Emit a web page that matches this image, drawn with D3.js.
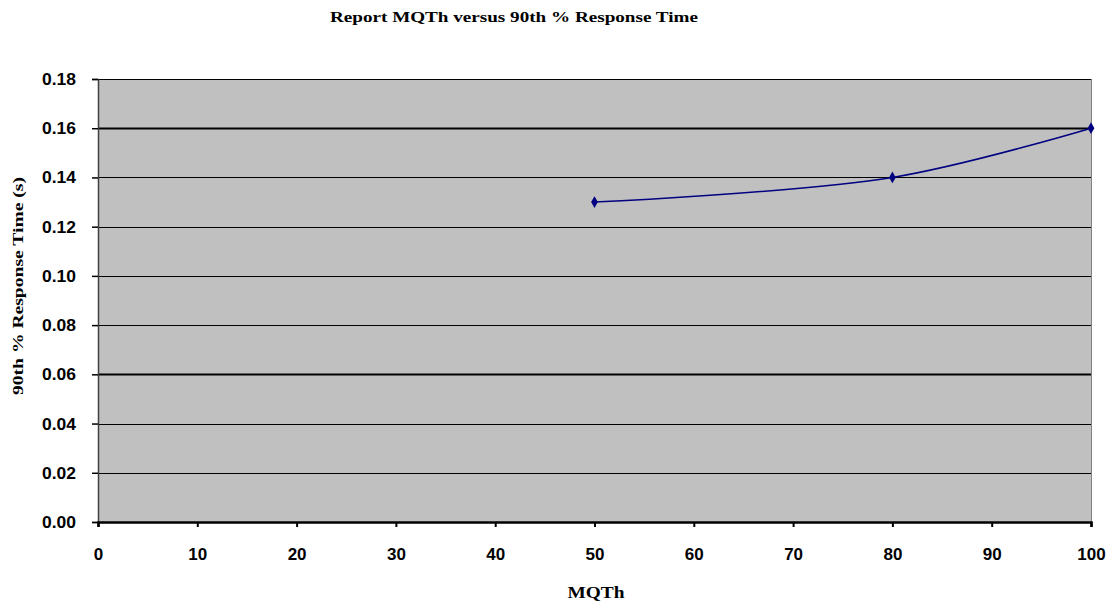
<!DOCTYPE html>
<html><head><meta charset="utf-8">
<script src="https://cdn.jsdelivr.net/npm/d3@7"></script>
<style>body{margin:0;background:#fff}svg{display:block}</style>
</head><body>
<script>
const xValues = [50, 80, 100];
const yValues = [0.13, 0.14, 0.16];
const xTicks = [0,10,20,30,40,50,60,70,80,90,100];
const yTicks = [0,0.02,0.04,0.06,0.08,0.10,0.12,0.14,0.16,0.18];
const title = "Report MQTh versus 90th % Response Time";
const xLabel = "MQTh";
const yLabel = "90th % Response Time (s)";

const W = 1110, H = 605;
const m = {left: 98, right: 1091, top: 79, bottom: 522};
const svg = d3.select("body").append("svg").attr("width", W).attr("height", H);
const x = d3.scaleLinear().domain([0,100]).range([m.left, m.right]);
const y = d3.scaleLinear().domain([0,0.18]).range([m.bottom, m.top]);

svg.append("rect").attr("x", m.left).attr("y", m.top).attr("width", m.right-m.left).attr("height", m.bottom-m.top).attr("fill", "#C0C0C0");

// gridlines
svg.append("g").selectAll("line").data(yTicks.filter(d => d > 0)).join("line")
  .attr("x1", m.left).attr("x2", m.right)
  .attr("y1", d => Math.round(y(d)) + 0.5).attr("y2", d => Math.round(y(d)) + 0.5)
  .attr("stroke", "#000")
  .attr("stroke-width", d => (Math.abs(d-0.16)<1e-9 || Math.abs(d-0.06)<1e-9) ? 2 : 1);

// right border
svg.append("line").attr("x1", m.right+0.5).attr("x2", m.right+0.5).attr("y1", m.top).attr("y2", m.bottom).attr("stroke", "#808080");

const sans = "Liberation Sans, Arial, sans-serif";
// y axis
const yAxis = svg.append("g").attr("transform", `translate(${m.left},0)`)
  .call(d3.axisLeft(y).tickValues(yTicks).tickFormat(d3.format(".2f")).tickSize(6).tickPadding(16));
yAxis.select(".domain").attr("stroke", "#404040").attr("stroke-width", 1.5);
yAxis.selectAll(".tick line").attr("stroke", "#000").attr("stroke-width", 1.5);
yAxis.selectAll("text").attr("font-family", sans).attr("font-weight", "bold").attr("font-size", 17).attr("fill", "#000")
  .attr("textLength", 34).attr("lengthAdjust", "spacingAndGlyphs");

// x axis
const xAxis = svg.append("g").attr("transform", `translate(0,${m.bottom})`)
  .call(d3.axisBottom(x).tickValues(xTicks).tickFormat(d3.format("d")).tickSize(5).tickPadding(21));
xAxis.select(".domain").attr("stroke", "#000").attr("stroke-width", 2.5);
xAxis.selectAll(".tick line").attr("stroke", "#000").attr("stroke-width", 2);
xAxis.selectAll("text").attr("font-family", sans).attr("font-weight", "bold").attr("font-size", 17).attr("fill", "#000");

// line
const pts = xValues.map((v,i) => [v, yValues[i]]);
svg.append("path").datum(pts)
  .attr("d", d3.line().x(d => x(d[0])).y(d => y(d[1])).curve(d3.curveCatmullRom.alpha(0.5)))
  .attr("fill", "none").attr("stroke", "#000080").attr("stroke-width", 1.5);
svg.append("g").selectAll("path").data(pts).join("path")
  .attr("transform", d => `translate(${x(d[0])},${y(d[1])})`)
  .attr("d", d3.symbol().type(d3.symbolDiamond).size(40))
  .attr("fill", "#000080");

// title & labels
const serif = "Liberation Serif, Times New Roman, serif";
svg.append("text").attr("x", 514).attr("y", 22).attr("text-anchor", "middle")
  .attr("font-family", serif).attr("font-weight", "bold").attr("font-size", 15)
  .attr("textLength", 368).attr("lengthAdjust", "spacingAndGlyphs").text(title);
svg.append("text").attr("x", 596).attr("y", 598).attr("text-anchor", "middle")
  .attr("font-family", serif).attr("font-weight", "bold").attr("font-size", 16)
  .attr("textLength", 57).attr("lengthAdjust", "spacingAndGlyphs").text(xLabel);
svg.append("text").attr("transform", "translate(23,286) rotate(-90)").attr("text-anchor", "middle")
  .attr("font-family", serif).attr("font-weight", "bold").attr("font-size", 15)
  .attr("textLength", 218).attr("lengthAdjust", "spacingAndGlyphs").text(yLabel);
</script>
</body></html>
